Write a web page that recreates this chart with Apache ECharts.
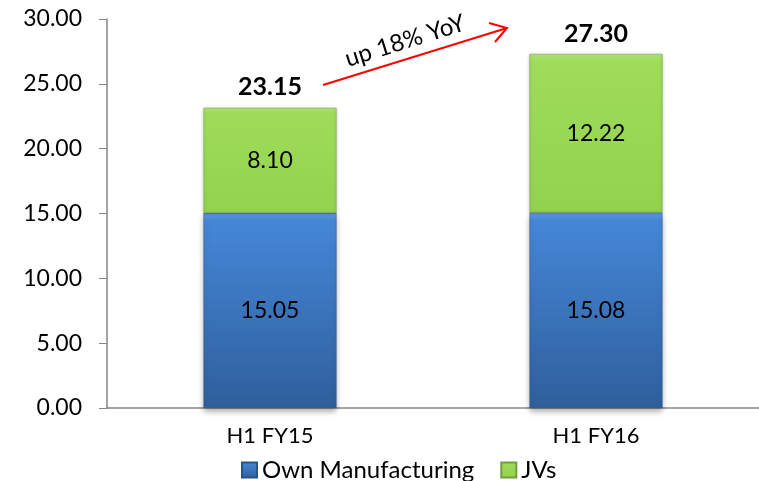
<!DOCTYPE html>
<html>
<head>
<meta charset="utf-8">
<script src="https://cdn.jsdelivr.net/npm/echarts@6/dist/echarts.min.js"></script>
<style>
  html, body { margin: 0; padding: 0; background: #fff; }
  #main { width: 759px; height: 481px; }
</style>
</head>
<body>
<div id="main"></div>
<script>
// 数据
var categories = ['H1 FY15', 'H1 FY16'];
var ownMfg = [15.05, 15.08];
var jvs = [8.10, 12.22];
var totals = [23.15, 27.30];
var yTicks = [0, 5, 10, 15, 20, 25, 30];

(function () {
  var myChart = echarts.init(document.getElementById('main'));
  var font = 'Lato, "Open Sans", sans-serif';

  var blue = new echarts.graphic.LinearGradient(0, 0, 0, 1, [
    { offset: 0, color: '#6aa6ea' },
    { offset: 0.04, color: '#4587d8' },
    { offset: 1, color: '#2f5f9c' }
  ]);
  var green = new echarts.graphic.LinearGradient(0, 0, 0, 1, [
    { offset: 0, color: '#b2e57a' },
    { offset: 0.05, color: '#9edc5a' },
    { offset: 1, color: '#93d24f' }
  ]);

  var option = {
    animation: false,
    textStyle: { fontFamily: font },
    grid: { left: 107, right: -10, top: 19, bottom: 73 },
    legend: {
      data: ['Own Manufacturing', 'JVs'],
      left: 236,
      top: 453,
      itemWidth: 15,
      itemHeight: 15,
      itemGap: 26,
      icon: 'rect',
      textStyle: { fontSize: 24, color: '#000', fontFamily: font }
    },
    xAxis: {
      type: 'category',
      data: categories,
      axisLine: { lineStyle: { color: '#868686', width: 1.5 } },
      axisTick: { show: false },
      axisLabel: { fontSize: 22, color: '#000', margin: 17 }
    },
    yAxis: {
      type: 'value',
      min: yTicks[0],
      max: yTicks[yTicks.length - 1],
      interval: 5,
      splitLine: { show: false },
      axisLine: { show: true, lineStyle: { color: '#868686', width: 1.5 } },
      axisTick: { show: true, length: 8, lineStyle: { color: '#868686' } },
      axisLabel: {
        fontSize: 23, color: '#000', margin: 25,
        formatter: function (v) { return v.toFixed(2); }
      }
    },
    series: [
      {
        name: 'Own Manufacturing',
        type: 'bar',
        stack: 'total',
        barWidth: 133,
        data: ownMfg,
        itemStyle: {
          color: blue,
          borderColor: '#2a5386',
          borderWidth: 0.5,
          shadowColor: 'rgba(0,0,0,0.35)',
          shadowBlur: 6,
          shadowOffsetY: 3
        },
        label: {
          show: true, position: 'inside', fontSize: 23, color: '#000',
          formatter: function (p) { return p.value.toFixed(2); }
        }
      },
      {
        name: 'JVs',
        type: 'bar',
        stack: 'total',
        data: jvs,
        itemStyle: {
          color: green,
          borderColor: '#6f9e3a',
          borderWidth: 0.5,
          shadowColor: 'rgba(0,0,0,0.25)',
          shadowBlur: 4,
          shadowOffsetY: 1
        },
        label: {
          show: true, position: 'inside', fontSize: 23, color: '#000',
          formatter: function (p) { return p.value.toFixed(2); }
        }
      },
      {
        // 总数标签
        name: 'Total',
        type: 'bar',
        stack: 'total',
        data: totals.map(function () { return 0; }),
        itemStyle: { color: 'transparent' },
        label: {
          show: true, position: 'top', distance: 8,
          fontSize: 25, fontWeight: 'bold', color: '#000',
          formatter: function (p) { return totals[p.dataIndex].toFixed(2); }
        }
      }
    ],
    graphic: [
      {
        type: 'line',
        shape: { x1: 323, y1: 85, x2: 507, y2: 28 },
        style: { stroke: '#ff0000', lineWidth: 2 }
      },
      {
        type: 'polyline',
        shape: { points: [[489, 23], [507, 28], [495, 42]] },
        style: { stroke: '#ff0000', lineWidth: 2, fill: null }
      },
      {
        type: 'text',
        x: 405,
        y: 41,
        rotation: 17.5 * Math.PI / 180,
        style: {
          text: 'up 18% YoY',
          fontSize: 24,
          fontFamily: font,
          fill: '#000',
          align: 'center',
          verticalAlign: 'middle'
        }
      }
    ]
  };

  myChart.setOption(option);
  window.addEventListener('resize', function () {
    myChart.resize();
  });
})();
</script>
</body>
</html>
